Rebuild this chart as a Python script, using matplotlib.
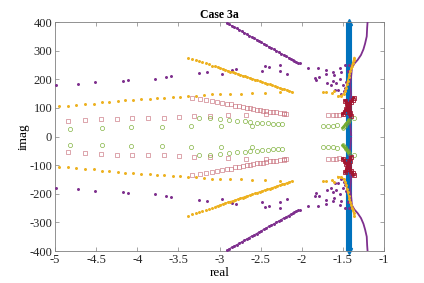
import numpy as np
import matplotlib
matplotlib.use("Agg")
import matplotlib.pyplot as plt

plt.rcParams['font.family'] = ['Liberation Serif', 'DejaVu Serif']

# upper half only (values are conjugate pairs, mirrored below)
# purple: sparse points
pu_pts_x = [-4.99, -4.72, -4.51, -4.17, -4.11, -3.78, -3.65, -3.59, -3.25, -3.15,
            -2.97, -2.85, -2.80, -2.48, -2.45, -2.40, -2.27, -2.27, -2.18, -2.05,
            -2.02, -1.93, -1.80, -1.84, -1.83, -1.79, -1.70, -1.70, -1.62, -1.61,
            -1.69, -1.65, -1.62, -1.58, -1.54, -1.52, -1.60, -1.56, -1.47, -1.54,
            -1.48, -1.50, -1.46, -1.44, -1.43, -1.52, -1.49, -1.45]
pu_pts_y = [179, 185, 190, 194, 199, 202, 208, 212, 222, 226,
            217, 231, 235, 229, 245, 243, 249, 229, 217, 256,
            258, 241, 241, 206, 197, 209, 234, 220, 226, 214,
            188, 179, 195, 188, 200, 226, 164, 161, 249, 238,
            171, 180, 190, 230, 250, 150, 158, 120]
# purple: dense branch
pu_line_x = [-2.91, -2.88, -2.85, -2.82, -2.79, -2.76, -2.73, -2.70, -2.67, -2.64,
             -2.61, -2.58, -2.55, -2.52, -2.49, -2.46, -2.43, -2.40, -2.37, -2.34,
             -2.31, -2.28, -2.25, -2.22, -2.19, -2.16, -2.13, -2.11, -2.09, -2.07]
pu_line_y = [397, 392, 387, 382, 378, 373, 368, 363, 358, 353,
             348, 344, 339, 334, 329, 324, 319, 314, 310, 305,
             300, 295, 290, 285, 281, 276, 271, 268, 265, 261]
# purple: curve near the axis
pu_arc_x = [-1.20, -1.205, -1.21, -1.23, -1.25, -1.28, -1.32, -1.36, -1.39, -1.40,
            -1.41, -1.40, -1.42, -1.43, -1.42, -1.41, -1.40]
pu_arc_y = [400, 380, 350, 325, 305, 285, 268, 255, 240, 210,
            180, 150, 120, 95, 70, 40, 5]

# orange
or_row_x = [-4.95, -4.84, -4.74, -4.64, -4.53, -4.43, -4.34, -4.24, -4.15, -4.05,
            -3.95, -3.85, -3.76, -3.67, -3.57, -3.48, -3.38, -3.28, -3.19, -3.09,
            -2.99, -2.87, -2.74, -2.60, -2.45, -2.27, -1.74, -1.70, -1.63, -1.61]
or_row_y = [106, 108, 110, 113, 115, 119, 121, 124, 127, 128,
            130, 131, 134, 136, 138, 138, 141, 141, 144, 147,
            147, 148, 150, 152, 152, 155, 156, 156, 152, 158]
or_line_x = [-3.38, -3.33, -3.29, -3.25, -3.21, -3.17, -3.13, -3.09, -3.05, -3.02,
             -2.99, -2.96, -2.93, -2.90, -2.87, -2.84, -2.81, -2.78, -2.75, -2.72,
             -2.69, -2.66, -2.63, -2.60, -2.57, -2.54, -2.51, -2.48, -2.45, -2.42,
             -2.39, -2.36, -2.33, -2.30, -2.27, -2.24, -2.21, -2.18, -2.15, -2.12]
or_line_y = [276, 271, 267, 264, 260, 256, 252, 248, 245, 242,
             239, 236, 233, 230, 227, 225, 222, 219, 216, 213,
             210, 207, 205, 202, 199, 196, 193, 190, 187, 185,
             182, 179, 176, 173, 170, 167, 165, 162, 159, 156]
or_near_x = [-1.56, -1.52, -1.49, -1.47, -1.46, -1.45, -1.44, -1.43, -1.42, -1.41,
             -1.40, -1.39, -1.38, -1.37, -1.36]
or_near_y = [140, 143, 148, 158, 170, 182, 195, 207, 218, 228,
             238, 248, 258, 267, 276]

# red squares
rd_row_x = [-4.84, -4.64, -4.44, -4.25, -4.06, -3.87, -3.68, -3.49, -3.31, -3.11,
            -2.90, -2.68, -2.43, -2.22, -1.68, -1.62, -1.58, -1.55]
rd_row_y = [53, 57, 60, 63, 65, 65, 66, 69, 71, 72,
            74, 77, 78, 80, 77, 77, 77, 75]
rd_line_x = [-3.33, -3.24, -3.16, -3.09, -3.03, -2.97, -2.91, -2.86, -2.81, -2.76,
             -2.72, -2.67, -2.63, -2.59, -2.55, -2.51, -2.47, -2.43, -2.39, -2.35,
             -2.31, -2.27, -2.22, -2.19]
rd_line_y = [135, 130, 127, 123, 121, 117, 114, 112, 108, 106,
             104, 101, 99, 97, 94, 93, 91, 90, 87, 86,
             85, 83, 81, 80]
rd_x1 = [-1.50, -1.48, -1.46, -1.44, -1.42, -1.40, -1.38, -1.37]
rd_y1 = [78, 86, 95, 104, 113, 121, 129, 135]
rd_x2 = [-1.47, -1.45, -1.43, -1.41, -1.40]
rd_y2 = [125, 112, 98, 84, 72]

# green circles
gr_row_x = [-4.82, -4.43, -4.07, -3.70, -3.35, -2.98, -2.60, -1.74, -1.68, -1.62, -1.57, -1.37]
gr_row_y = [28, 30, 33, 34, 36, 37, 37, 38, 38, 38, 40, 65]
gr_line_x = [-3.25, -3.11, -2.99, -2.88, -2.79, -2.69, -2.63, -2.55, -2.48, -2.41,
             -2.35, -2.29, -2.24]
gr_line_y = [66, 64, 60, 57, 55, 55, 50, 49, 48, 47,
             44, 43, 43]
gr_near_x = [-1.50, -1.48, -1.46, -1.44, -1.43]
gr_near_y = [31, 38, 45, 52, 57]

# blue
bl_x = [-1.42, -1.42]
bl_y = [-400, 400]

PURPLE = '#7E2F8E'
ORANGE = '#EDB120'
RED = '#A2142F'
PINK = '#C9737F'
GREEN = '#77AC30'
BLUE = '#0072BD'


def both(x, y):
    x = np.asarray(x, float)
    y = np.asarray(y, float)
    return np.concatenate([x, x]), np.concatenate([y, -y])


def half(x, y):
    x = np.asarray(x, float)
    y = np.asarray(y, float)
    return [(x, y), (x, -y)]


fig = plt.figure(figsize=(4.24, 2.83), dpi=100)
ax = fig.add_axes([0.1297, 0.113, 0.776, 0.809])

# blue band
ax.plot(bl_x, bl_y, color=BLUE, lw=4.4, solid_capstyle='butt', zorder=2)
ax.plot([bl_x[0]], [bl_y[1]], marker='^', color=BLUE, ms=5, clip_on=False, zorder=2)
ax.plot([bl_x[0]], [bl_y[0]], marker='v', color=BLUE, ms=5, clip_on=False, zorder=2)

# purple
x, y = both(pu_pts_x, pu_pts_y)
ax.plot(x, y, ls='none', marker='.', ms=2.3, color=PURPLE, zorder=3)
x, y = both(pu_line_x, pu_line_y)
ax.plot(x, y, ls='none', marker='.', ms=2.3, color=PURPLE, zorder=3)
for xx, yy in half(pu_line_x, pu_line_y):
    ax.plot(xx, yy, color=PURPLE, lw=0.8, zorder=3)
for xx, yy in half(pu_arc_x, pu_arc_y):
    ax.plot(xx, yy, color=PURPLE, lw=1.3, zorder=4)

# orange
x, y = both(or_row_x, or_row_y)
ax.plot(x, y, ls='none', marker='.', ms=2.3, color=ORANGE, zorder=3)
x, y = both(or_line_x, or_line_y)
ax.plot(x, y, ls='none', marker='.', ms=2.3, color=ORANGE, zorder=3)
for xx, yy in half(or_line_x[8:], or_line_y[8:]):
    ax.plot(xx, yy, color=ORANGE, lw=0.9, zorder=3)
for xx, yy in half(or_near_x, or_near_y):
    ax.plot(xx, yy, color=ORANGE, lw=1.1, marker='.', ms=2.3, zorder=4)

# red squares
x, y = both(rd_row_x, rd_row_y)
ax.plot(x, y, ls='none', marker='s', ms=2.8, mfc='none', mew=0.45, color=PINK, zorder=3)
x, y = both(rd_line_x, rd_line_y)
ax.plot(x, y, ls='none', marker='s', ms=2.8, mfc='none', mew=0.45, color=PINK, zorder=3)
for xx, yy in half(rd_x1, rd_y1) + half(rd_x2, rd_y2):
    ax.plot(xx, yy, color=RED, lw=2.2, marker='s', ms=2.5, mfc='none', mew=0.6, zorder=5)

# green circles
x, y = both(gr_row_x, gr_row_y)
ax.plot(x, y, ls='none', marker='o', ms=3.0, mfc='none', mew=0.45, color=GREEN, zorder=3)
x, y = both(gr_line_x, gr_line_y)
ax.plot(x, y, ls='none', marker='o', ms=3.0, mfc='none', mew=0.45, color=GREEN, zorder=3)
for xx, yy in half(gr_near_x, gr_near_y):
    ax.plot(xx, yy, color=GREEN, lw=2.0, marker='o', ms=2.5, mfc='none', mew=0.6, zorder=5)

ax.set_xlim(-5, -1)
ax.set_ylim(-400, 400)
ax.set_xticks(np.arange(-5, -0.9, 0.5))
ax.set_xticklabels(['-5', '-4.5', '-4', '-3.5', '-3', '-2.5', '-2', '-1.5', '-1'])
ax.set_yticks(np.arange(-400, 401, 100))
ax.set_yticklabels([str(v) for v in range(-400, 401, 100)])
ax.tick_params(direction='in', top=True, right=True, length=3, width=0.5,
               color='#808080', labelsize=9, labelcolor='#262626', pad=2)
for s in ax.spines.values():
    s.set_color('#808080')
    s.set_linewidth(0.6)

ax.set_title('Case 3a', fontsize=8.5, fontweight='bold', pad=3)
ax.set_xlabel('real', fontsize=9.5, labelpad=1)
ax.set_ylabel('imag', fontsize=9.5, labelpad=0)

fig.savefig('out.png', dpi=100)
